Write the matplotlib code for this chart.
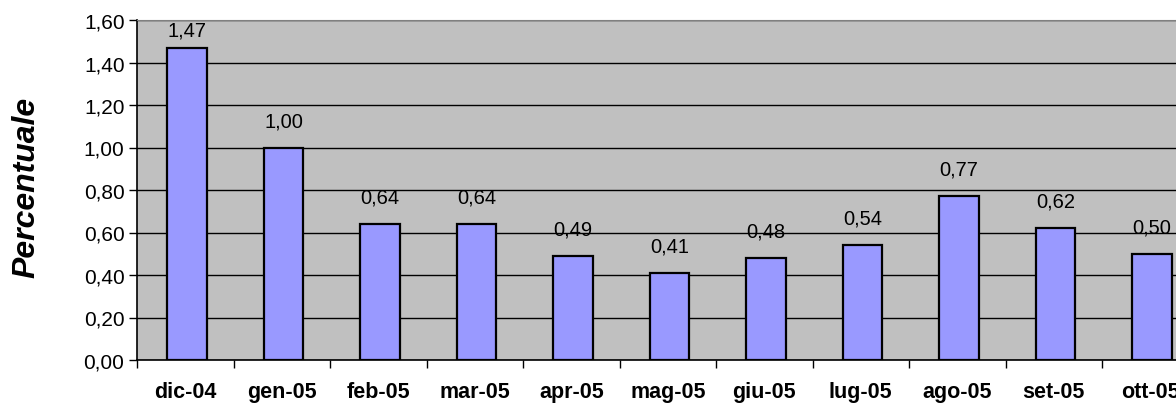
import matplotlib
matplotlib.use("Agg")
import matplotlib.pyplot as plt
from matplotlib.ticker import FixedLocator

categories = ["dic-04", "gen-05", "feb-05", "mar-05", "apr-05", "mag-05",
              "giu-05", "lug-05", "ago-05", "set-05", "ott-05"]
values = [1.47, 1.00, 0.64, 0.64, 0.49, 0.41, 0.48, 0.54, 0.77, 0.62, 0.50]
yticks = [0.0, 0.2, 0.4, 0.6, 0.8, 1.0, 1.2, 1.4, 1.6]
ylabel = "Percentuale"

plt.rcParams['font.family'] = ['Liberation Sans', 'DejaVu Sans']

W, H = 1176, 406
fig = plt.figure(figsize=(W / 100, H / 100), dpi=100)
fig.patch.set_facecolor('white')

left_px, right_px = 137, 137 + 11 * 96.5
top_px, bot_px = 21, 361
ax = fig.add_axes([left_px / W, 1 - bot_px / H,
                   (right_px - left_px) / W, (bot_px - top_px) / H])
ax.set_facecolor('#c0c0c0')

n = len(categories)
xs = list(range(n))
ax.bar([x + 0.02 for x in xs], values, width=0.41, color='#9999ff',
       edgecolor='black', linewidth=1.6, zorder=3)

ax.set_xlim(-0.5, n - 0.5)
ax.set_ylim(0, 1.6)
ax.set_yticks(yticks)
ax.set_yticklabels([f"{t:.2f}".replace('.', ',') for t in yticks], fontsize=15)
ax.yaxis.grid(True, color='black', linewidth=1.0, zorder=1)
ax.set_axisbelow(True)

ax.set_xticks(xs)
ax.set_xticklabels(categories, fontsize=15.5, fontweight='bold')
ax.tick_params(axis='x', length=0, pad=15)
ax.xaxis.set_minor_locator(FixedLocator([i - 0.5 for i in range(n + 1)]))
ax.tick_params(axis='x', which='minor', length=6, width=1, color='black',
               direction='out')
ax.tick_params(axis='y', length=6, width=1, color='black', direction='out', pad=3)

ax.spines['right'].set_visible(False)
ax.spines['top'].set_color('#808080')
ax.spines['left'].set_color('black')
ax.spines['bottom'].set_color('black')
ax.spines['left'].set_linewidth(1.2)
ax.spines['bottom'].set_linewidth(1.2)

px_per_unit = (bot_px - top_px) / 1.6
off = 27 / px_per_unit
cap = 1.6 - 10 / px_per_unit
for x, v in zip(xs, values):
    ax.text(x + 0.02, min(v + off, cap), f"{v:.2f}".replace('.', ','),
            ha='center', va='center', fontsize=14.5, zorder=4)

fig.text(26 / W, 1 - 187 / H, ylabel, rotation=90, ha='center', va='center',
         fontsize=23, fontweight='bold', fontstyle='italic')

fig.savefig('out.png', dpi=100)
